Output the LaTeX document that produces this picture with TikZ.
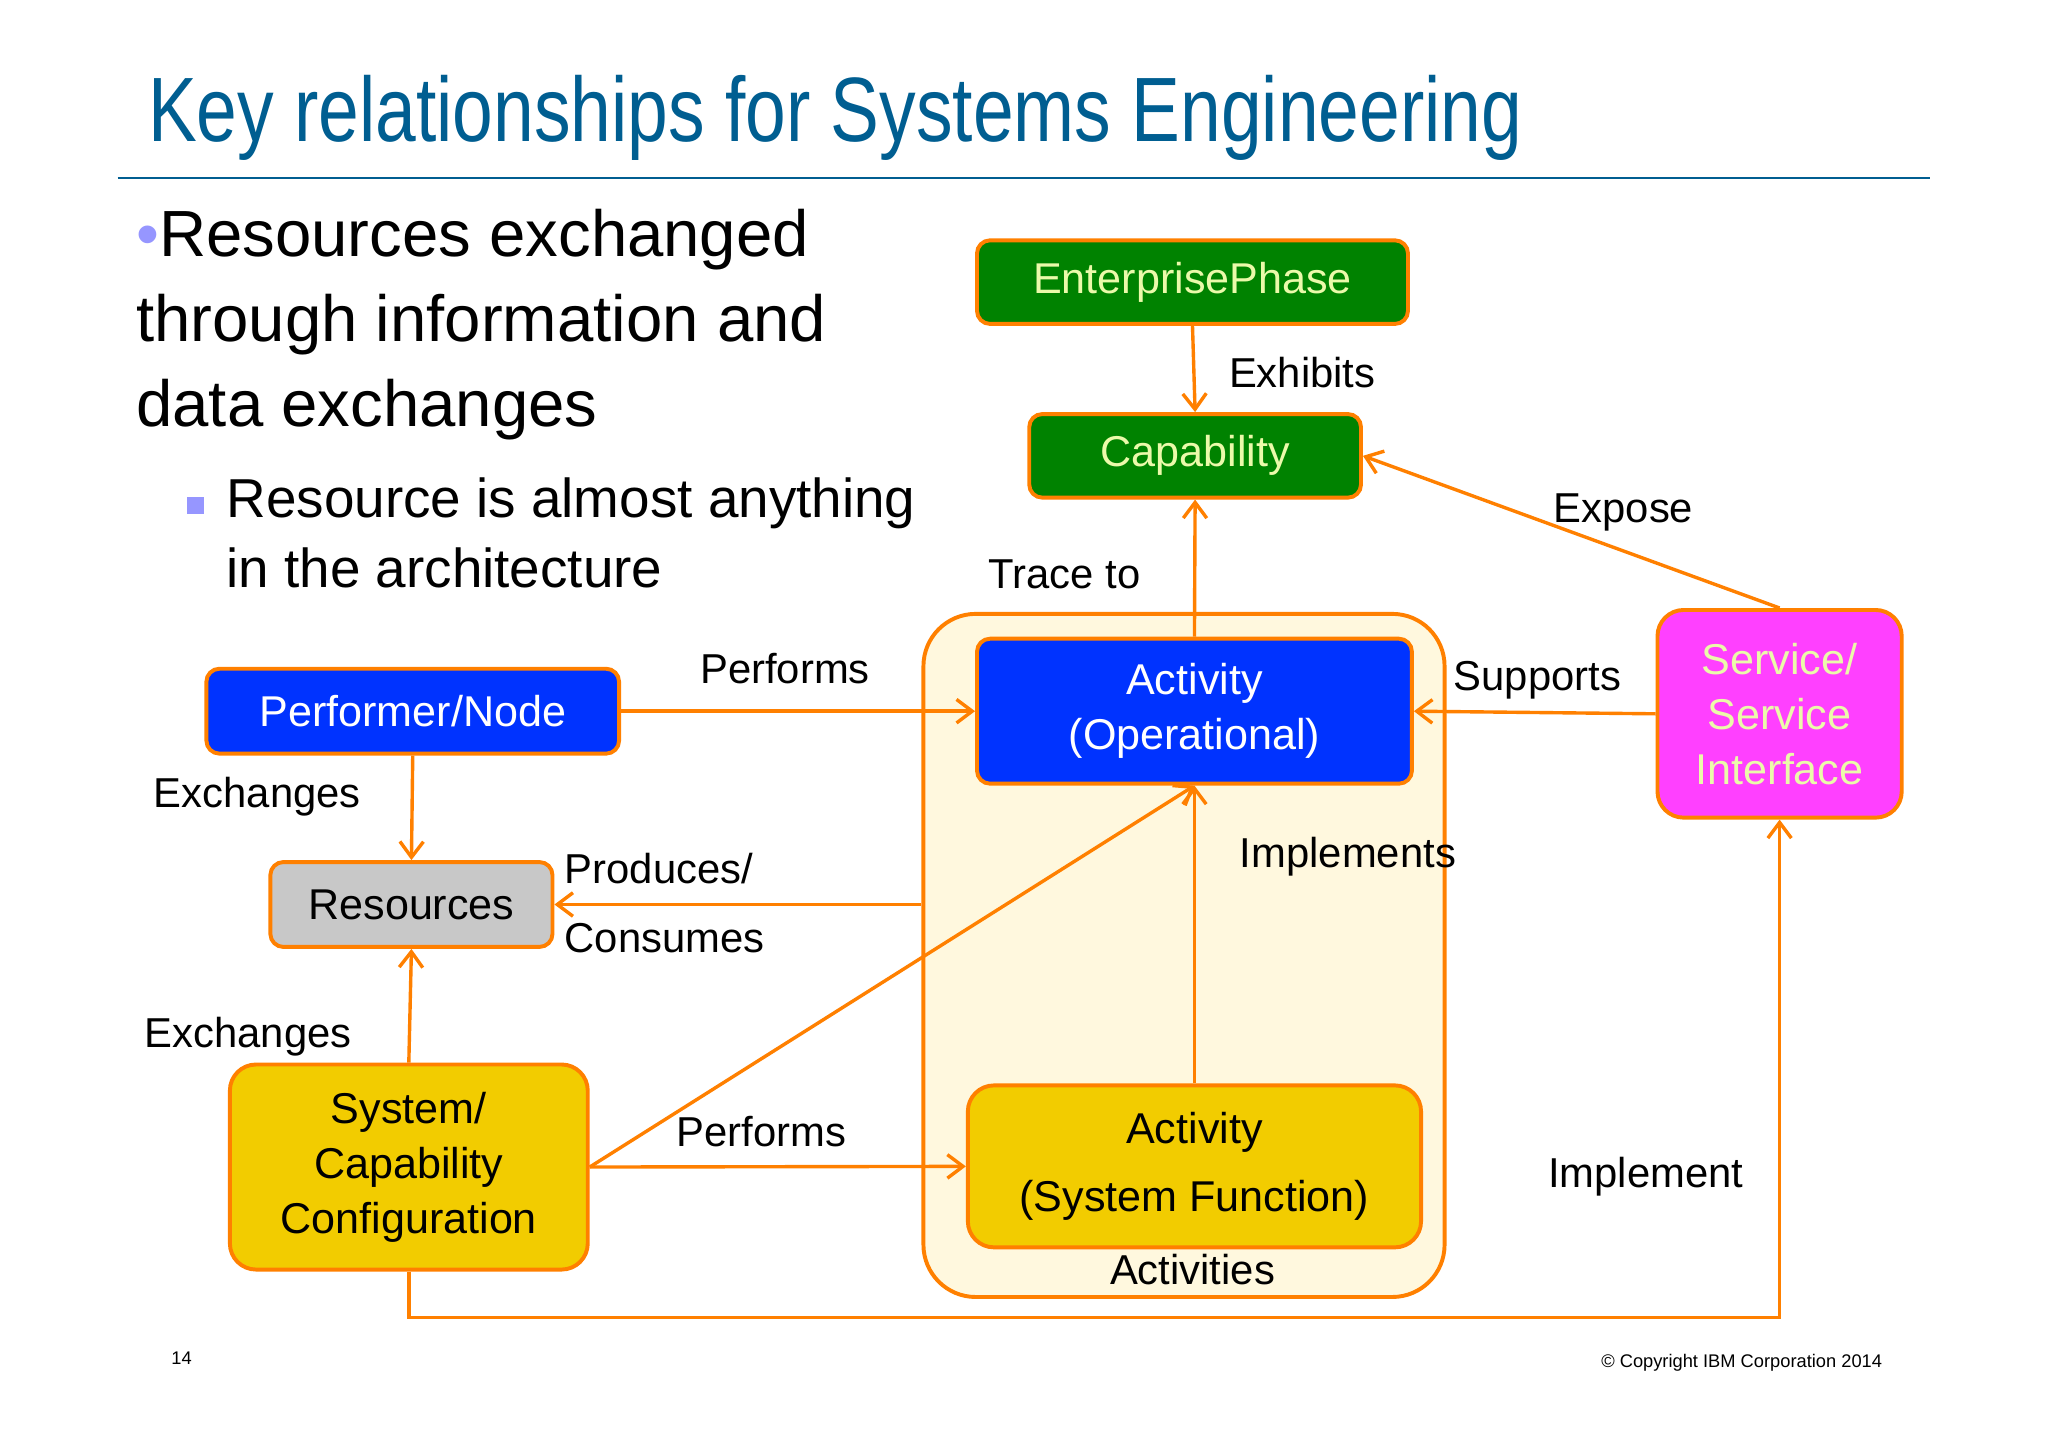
\documentclass[tikz,border=0pt]{standalone}
\usepackage{fontspec}
\setmainfont{Liberation Sans}
\usetikzlibrary{arrows.meta,calc}
\definecolor{org}{RGB}{255,128,0}
\definecolor{ttl}{RGB}{0,94,145}
\definecolor{grn}{RGB}{0,130,0}
\definecolor{blu}{RGB}{0,51,255}
\definecolor{ylw}{RGB}{242,204,0}
\definecolor{mag}{RGB}{255,64,255}
\definecolor{crm}{RGB}{255,248,222}
\definecolor{gry}{RGB}{200,200,200}
\definecolor{pale}{RGB}{235,250,170}
\definecolor{bul}{RGB}{150,150,255}
\begin{document}
\begin{tikzpicture}[x=0.5pt,y=-0.5pt,
  box/.style={draw=org,line width=1.5pt,rounded corners=5pt,align=center,font=\fontsize{16.5}{21}\selectfont,inner sep=0pt},
  arr/.style={draw=org,line width=1.3pt,-{Straight Barb[length=6pt,width=9pt]}},
  lbl/.style={font=\fontsize{16}{19}\selectfont,inner sep=0pt}]
\useasboundingbox[fill=white] (0,0) rectangle (1568,1108);
\node[anchor=west,text=ttl,inner sep=0pt] (title) at (113,90) {\scalebox{0.8}[1]{\fontsize{35}{40}\selectfont Key relationships for Systems Engineering}};
\draw[ttl,line width=0.8pt] (90,136) -- (1478,136);
\node[anchor=north west,align=left,inner sep=0pt,font=\fontsize{25}{32.5}\selectfont] (b1) at (104,160) {{\color{bul}\textbullet}Resources exchanged\\through information and\\data exchanges};
\node[anchor=north west,align=left,inner sep=0pt,font=\fontsize{21}{27}\selectfont] (b2) at (173,365) {Resource is almost anything\\in the architecture};
\node[fill=bul,minimum size=6.5pt,inner sep=0pt] (sq) at (150,387) {};
\node[box,draw=org,rounded corners=20pt,fill=crm,minimum width=199.5pt,minimum height=261.5pt] (cont) at (906.5,731.5) {};
\node[lbl] (actl) at (913,972) {Activities};
\node[box,fill=grn,text=pale,minimum width=165pt,minimum height=32pt] (ep) at (913,216) {EnterprisePhase};
\node[box,fill=grn,text=pale,minimum width=127pt,minimum height=32pt] (cap) at (915,349) {Capability};
\node[box,fill=blu,text=white,minimum width=166.5pt,minimum height=55.5pt,font=\fontsize{16.5}{21}\selectfont] (act) at (914.5,544.5) {Activity\\(Operational)};
\node[box,fill=blu,text=white,minimum width=158pt,minimum height=32.5pt] (perf) at (316,544.5) {Performer/Node};
\node[box,fill=gry,minimum width=108pt,minimum height=32.5pt] (res) at (315,692.5) {Resources};
\node[box,fill=ylw,rounded corners=10pt,minimum width=137pt,minimum height=78.5pt] (sys) at (313,893.5) {System/\\Capability\\Configuration};
\node[box,fill=ylw,rounded corners=10pt,minimum width=173.5pt,minimum height=62pt,font=\fontsize{16.5}{26}\selectfont] (fn) at (914.5,893) {Activity\\(System Function)};
\node[box,fill=mag,text=pale,rounded corners=10pt,minimum width=93.5pt,minimum height=79.5pt] (svc) at (1362.5,546.5) {Service/\\Service\\Interface};
\draw[arr] (ep.south) -- (cap.north);
\draw[arr] (act.north) -- (cap.south);
\draw[arr] (svc.north) -- (cap.east);
\draw[arr] (perf.east) -- (act.west);
\draw[arr] (svc.west) -- (act.east);
\draw[arr] (perf.south) -- (res.north);
\draw[arr] (res.east -| cont.west) -- (res.east);
\draw[arr] (sys.north) -- (res.south);
\draw[arr] (sys.east) -- (act.south);
\draw[arr] (sys.east) -- (fn.west);
\draw[arr] (fn.north) -- (act.south);
\draw[arr] (sys.south) -- ++(0,35) coordinate (c1) -| (svc.south);
\node[lbl] (l1) at (997,285) {Exhibits};
\node[lbl] (l2) at (815,440) {Trace to};
\node[lbl] (l3) at (1243,392) {Expose};
\node[lbl] (l4) at (601,512) {Performs};
\node[lbl] (l5) at (1177,521) {Supports};
\node[lbl] (l6) at (197,610) {Exchanges};
\node[lbl,anchor=west] (l7) at (432,665) {Produces/};
\node[lbl,anchor=west] (l8) at (432,718) {Consumes};
\node[lbl] (l9) at (190,794) {Exchanges};
\node[lbl] (l10) at (583,866) {Performs};
\node[lbl] (l11) at (1032,656) {Implements};
\node[lbl] (l12) at (1260,901) {Implement};
\node[font=\fontsize{7}{8}\selectfont] (pg) at (139,1040) {14};
\node[font=\fontsize{7}{8}\selectfont,anchor=east] (cp) at (1448,1043) {© Copyright IBM Corporation 2014};
\end{tikzpicture}
\end{document}
